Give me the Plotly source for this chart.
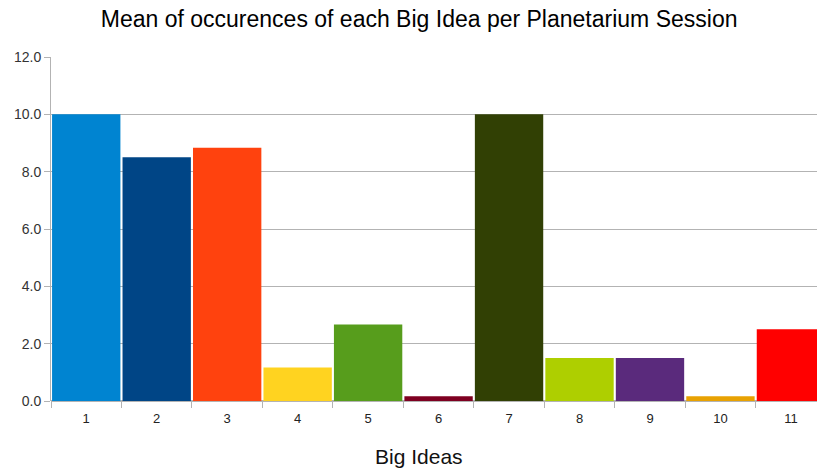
import plotly.graph_objects as go

# Mean number of occurrences of each Big Idea per planetarium session
big_ideas = ["1", "2", "3", "4", "5", "6", "7", "8", "9", "10", "11"]
mean_occurrences = [10.0, 8.5, 8.83, 1.17, 2.67, 0.17, 10.0, 1.5, 1.5, 0.17, 2.5]
bar_colors = ["#0084d1", "#004586", "#ff420e", "#ffd320", "#579d1c", "#7e0021",
              "#314004", "#aecf00", "#5a2a7c", "#e8a202", "#ff0000"]
y_ticks = [0, 2, 4, 6, 8, 10, 12]

fig = go.Figure(
    go.Bar(
        x=big_ideas,
        y=mean_occurrences,
        marker=dict(color=bar_colors, line=dict(width=0)),
        hoverinfo="x+y",
    )
)

fig.update_layout(
    width=817,
    height=468,
    margin=dict(l=51, r=0, t=57, b=67),
    paper_bgcolor="white",
    plot_bgcolor="white",
    bargap=0.03,
    showlegend=False,
    font=dict(family="Liberation Sans, Arial, sans-serif", color="#333333"),
    title=dict(
        text="Mean of occurences of each Big Idea per Planetarium Session",
        x=0.513,
        xref="container",
        y=0.96,
        yanchor="middle",
        font=dict(size=23, color="#000000"),
    ),
    xaxis=dict(
        type="category",
        range=[-0.5, 10.37],
        tickson="boundaries",
        ticks="outside",
        ticklen=6,
        tickcolor="#b3b3b3",
        ticklabelstandoff=8,
        showgrid=False,
        showline=False,
        tickfont=dict(size=13, color="#222222"),
    ),
    yaxis=dict(
        range=[0, 12],
        tickvals=y_ticks,
        tickformat=".1f",
        ticks="outside",
        ticklen=6,
        tickcolor="#b3b3b3",
        showgrid=True,
        gridcolor="#b3b3b3",
        gridwidth=1,
        showline=True,
        linecolor="#b3b3b3",
        linewidth=1,
        zeroline=True,
        zerolinecolor="#b3b3b3",
        tickfont=dict(size=14, color="#333333"),
    ),
    annotations=[
        dict(
            text="Big Ideas",
            xref="paper",
            yref="paper",
            x=(419 - 51) / (817 - 51),
            y=0,
            yshift=-55,
            yanchor="middle",
            xanchor="center",
            showarrow=False,
            font=dict(size=21, color="#111111"),
        )
    ],
)

fig.write_html("out.html")
